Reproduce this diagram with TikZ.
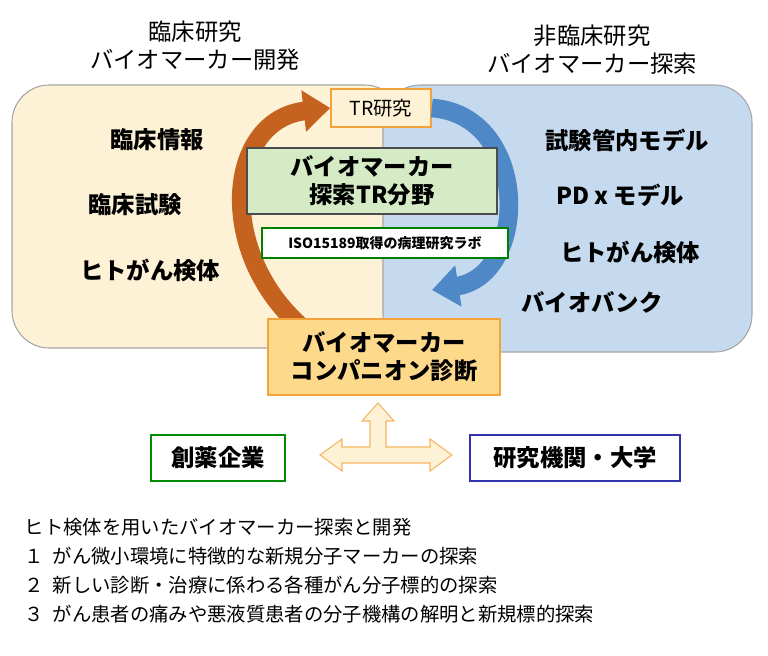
\documentclass[tikz,border=0pt]{standalone}
\usepackage{fontspec}
\setmainfont{Noto Sans CJK JP}
\usetikzlibrary{arrows.meta,shapes.arrows}
\definecolor{paleyel}{HTML}{FDF2D6}
\definecolor{paleblue}{HTML}{C6DAEF}
\definecolor{palegreen}{HTML}{D4EBC6}
\definecolor{goldfill}{HTML}{FDD98C}
\definecolor{orangeln}{HTML}{F2A33A}
\definecolor{arroworange}{HTML}{C5621F}
\definecolor{arrowblue}{HTML}{4F88C6}
\tikzset{
  panel/.style={draw=gray!70, line width=0.8pt, rounded corners=28pt},
  heading/.style={font=\fontsize{17.5}{21}\selectfont, align=center},
  item/.style={font=\bfseries\fontsize{17.5}{20}\selectfont},
  tag/.style={draw, line width=2pt, font=\bfseries\fontsize{17.5}{21}\selectfont, inner sep=6pt},
  loop/.style={line width=14pt, -{Triangle[length=20pt,width=30pt]}},
  note/.style={font=\fontsize{14.5}{17}\selectfont, anchor=west}
}
\begin{document}
\begin{tikzpicture}[x=0.75pt,y=-0.75pt]
  \useasboundingbox (0,0) rectangle (768,656);
  % headings
  \node[heading] (lefthead) at (195,46) {臨床研究\\バイオマーカー開発};
  \node[heading] (righthead) at (592,50) {非臨床研究\\バイオマーカー探索};
  % two panels
  \draw[panel, fill=paleyel] (12,85) rectangle (402,348);
  \draw[panel, fill=paleblue] (383,85) rectangle (752,352);
  % panel items
  \node[item] (info) at (157,140) {臨床情報};
  \node[item] (trial) at (135,205) {臨床試験};
  \node[item] (lspec) at (150,270) {ヒトがん検体};
  \node[item] (vitro) at (627,140) {試験管内モデル};
  \node[item] (pd) at (620,195) {PD x モデル};
  \node[item] (rspec) at (630,252) {ヒトがん検体};
  \node[item] (bank) at (592,302) {バイオバンク};
  % centre
  \node[tag, draw=orangeln, fill=paleyel, line width=1.2pt, minimum width=100pt*0.75, minimum height=38pt*0.75, font=\fontsize{14.5}{17}\selectfont] (tr) at (381,108) {TR研究};
  \coordinate (ostart) at (305,330);
  \coordinate (bend) at (432,290);
  \draw[loop, arroworange] (ostart) .. controls (215,255) and (225,120) .. (tr.west);
  \draw[loop, arrowblue] (tr.east) .. controls (530,115) and (530,275) .. (bend);
  \node[draw=gray!60!black, line width=1.4pt, fill=palegreen, minimum width=250pt*0.75, minimum height=66pt*0.75, align=center, font=\bfseries\fontsize{17.5}{21}\selectfont] (field) at (372,181) {バイオマーカー\\探索TR分野};
  \node[draw=green!50!black, line width=1pt, fill=white, minimum width=246pt*0.75, minimum height=30pt*0.75, font=\bfseries\fontsize{10.5}{12}\selectfont] (iso) at (385,243) {ISO15189取得の病理研究ラボ};
  \node[tag, draw=orangeln, fill=goldfill, minimum width=232pt*0.75, minimum height=76pt*0.75, align=center] (cdx) at (384,357) {バイオマーカー\\コンパニオン診断};
  % partners
  \node[tag, draw=green!55!black, minimum width=134pt*0.75, minimum height=46pt*0.75] (pharma) at (218,458) {創薬企業};
  \node[tag, draw=blue!60!black!80, minimum width=210pt*0.75, minimum height=46pt*0.75] (univ) at (575,458) {研究機関・大学};
  \coordinate (hub) at (378,455);
  \fill[paleyel, draw=orangeln!80, line width=0.8pt]
    (hub) ++(-8,-8) -- ++(0,-26) -- ++(-8,0) -- ++(16,-18) -- ++(16,18) -- ++(-8,0) -- ++(0,26)
    -- ++(44,0) -- ++(0,-8) -- ++(22,16) -- ++(-22,16) -- ++(0,-8) -- ++(-88,0)
    -- ++(0,8) -- ++(-22,-16) -- ++(22,-16) -- ++(0,8) -- cycle;
  % notes
  \node[note] (n0) at (20,527) {ヒト検体を用いたバイオマーカー探索と開発};
  \node[note] (n1) at (20,556) {１\ \ がん微小環境に特徴的な新規分子マーカーの探索};
  \node[note] (n2) at (20,585) {２\ \ 新しい診断・治療に係わる各種がん分子標的の探索};
  \node[note] (n3) at (20,614) {３\ \ がん患者の痛みや悪液質患者の分子機構の解明と新規標的探索};
\end{tikzpicture}
\end{document}
